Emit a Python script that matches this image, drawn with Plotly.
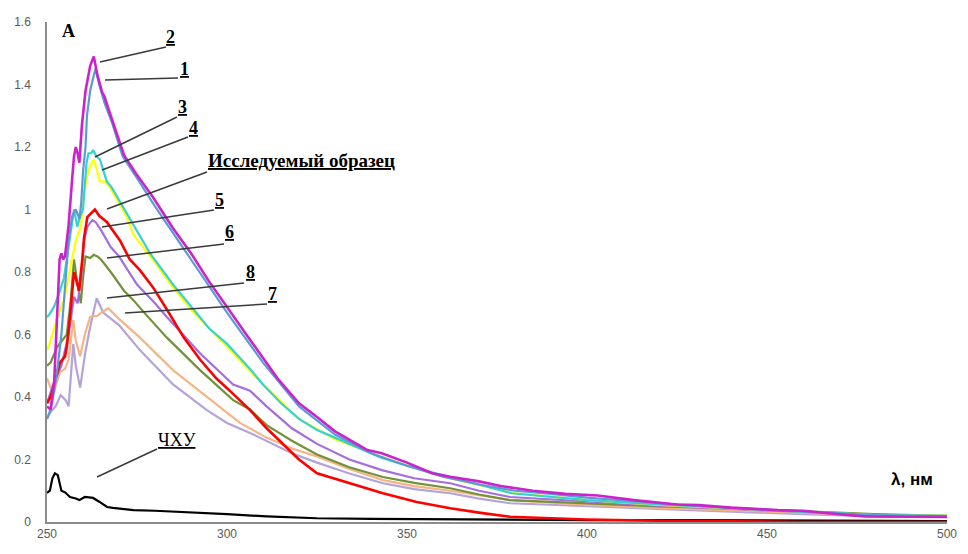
import plotly.graph_objects as go

# ---------------- data ----------------
wl_2 = [250, 251, 252, 253, 253.5, 254, 254.5, 255, 256, 257, 257.5, 258, 258.5, 259, 259.7, 260.7, 262, 263, 264,
        265.3, 266, 267.7, 271.4, 275, 279.4, 285, 290, 295, 300, 306, 314, 320, 325, 330, 339, 343, 350, 357, 362,
        370, 376, 385, 394, 403, 413, 425, 431, 440, 453, 460, 470, 477, 490, 500]
a_2 = [0.37, 0.36, 0.45, 0.70, 0.84, 0.86, 0.84, 0.85, 0.95, 1.10, 1.17, 1.20, 1.18, 1.15, 1.27, 1.38, 1.46, 1.49, 1.43,
       1.376, 1.36, 1.30, 1.174, 1.11, 1.04, 0.94, 0.86, 0.77, 0.69, 0.59, 0.46, 0.38, 0.336, 0.29, 0.23, 0.22, 0.19,
       0.156, 0.145, 0.13, 0.115, 0.10, 0.09, 0.085, 0.07, 0.056, 0.054, 0.046, 0.038, 0.036, 0.025, 0.018, 0.017, 0.017]

wl_1 = [250, 251, 252, 253, 254, 255, 256, 257, 258, 259, 259.5, 260, 260.7, 261.1, 262, 263, 263.5, 264.5, 266, 268,
        271, 275, 280, 290, 300, 310, 320, 330, 340, 350, 360, 370, 380, 390, 400, 420, 440, 460, 480, 500]
a_1 = [0.33, 0.36, 0.42, 0.50, 0.60, 0.75, 0.90, 0.98, 1.00, 0.97, 1.02, 1.12, 1.20, 1.30, 1.38, 1.43, 1.45, 1.40, 1.34,
       1.28, 1.17, 1.10, 1.01, 0.84, 0.67, 0.51, 0.37, 0.28, 0.22, 0.18, 0.145, 0.12, 0.10, 0.09, 0.078, 0.06, 0.045,
       0.033, 0.022, 0.018]

wl_3 = [250, 251, 252, 253.3, 254.7, 256.1, 257, 257.5, 258, 258.4, 259, 260, 260.5, 261, 261.5, 262.3, 262.8, 263.7,
        264.7, 266.6, 268, 270, 275, 278.6, 285, 290, 295, 300, 306.4, 310, 315, 320, 325, 330, 343, 350, 362, 370,
        379, 390, 400, 420, 440, 460, 480, 500]
a_3 = [0.655, 0.67, 0.69, 0.73, 0.78, 0.89, 0.97, 1.00, 0.97, 0.945, 0.97, 1.00, 1.08, 1.15, 1.18, 1.18, 1.19, 1.17,
       1.16, 1.09, 1.07, 1.03, 0.93, 0.86, 0.76, 0.69, 0.62, 0.57, 0.49, 0.44, 0.38, 0.33, 0.294, 0.27, 0.205, 0.18,
       0.145, 0.12, 0.092, 0.08, 0.07, 0.056, 0.045, 0.032, 0.022, 0.02]

wl_4 = [250, 251, 252, 253, 254.7, 256.6, 257.5, 258, 259.4, 260.3, 261, 262, 263, 264, 264.7, 266, 267.5, 270, 272,
        274, 280, 285, 290, 300, 310, 320, 330, 345, 360, 380, 400, 420, 440, 460, 480, 500]
a_4 = [0.55, 0.58, 0.62, 0.66, 0.71, 0.82, 0.87, 0.90, 0.945, 1.05, 1.10, 1.14, 1.16, 1.12, 1.09, 1.09, 1.07, 1.02,
       0.98, 0.92, 0.83, 0.75, 0.68, 0.56, 0.44, 0.33, 0.265, 0.20, 0.145, 0.092, 0.07, 0.055, 0.044, 0.032, 0.022, 0.02]

wl_s = [250, 251, 252, 253.6, 255, 255.5, 256.4, 257, 257.5, 258, 258.9, 259.8, 260.3, 261.2, 262.5, 263.3, 264.5,
        266.6, 270.3, 273, 275.8, 279.5, 283.3, 288, 292.5, 297, 301.7, 306.4, 311, 315.6, 320, 325, 334, 343.3,
        352.7, 362, 370, 378.6, 390, 400, 420, 440, 460, 500]
a_s = [0.38, 0.40, 0.44, 0.51, 0.53, 0.56, 0.66, 0.75, 0.80, 0.78, 0.74, 0.84, 0.91, 0.976, 0.99, 1.00, 0.98, 0.96,
       0.90, 0.84, 0.806, 0.75, 0.68, 0.59, 0.52, 0.46, 0.41, 0.358, 0.30, 0.25, 0.20, 0.156, 0.124, 0.092, 0.064,
       0.044, 0.03, 0.017, 0.012, 0.008, 0.004, 0.002, 0.0, 0.0]

wl_5 = [250, 252, 254, 256, 257.5, 258.5, 259.5, 260.3, 261.2, 262.6, 263.5, 265, 267.7, 270, 275, 280, 283.3, 292.5,
        301.7, 306.4, 311, 318, 325, 334, 343, 352, 362, 370, 378.6, 390, 400, 420, 440, 460, 480, 500]
a_5 = [0.38, 0.45, 0.50, 0.60, 0.72, 0.70, 0.78, 0.90, 0.945, 0.966, 0.96, 0.934, 0.88, 0.85, 0.76, 0.70, 0.656, 0.54,
       0.44, 0.42, 0.37, 0.30, 0.25, 0.20, 0.166, 0.14, 0.124, 0.10, 0.08, 0.072, 0.065, 0.052, 0.042, 0.032, 0.022,
       0.018]

wl_6 = [250, 251, 252.8, 255.5, 256.5, 257.5, 258.5, 259.4, 260, 260.7, 262, 263, 264, 265, 267.7, 271.4, 274, 277,
        283.3, 292.5, 301.7, 306.4, 311, 318, 325, 334, 343.3, 352, 362, 370, 378.6, 390, 400, 420, 440, 460, 480, 500]
a_6 = [0.50, 0.51, 0.56, 0.60, 0.70, 0.84, 0.76, 0.70, 0.78, 0.85, 0.845, 0.855, 0.85, 0.84, 0.80, 0.74, 0.71, 0.67,
       0.59, 0.486, 0.39, 0.36, 0.31, 0.26, 0.216, 0.175, 0.144, 0.125, 0.108, 0.088, 0.07, 0.064, 0.06, 0.05, 0.044,
       0.035, 0.025, 0.02]

wl_8 = [250, 251, 252.4, 253.8, 255.2, 256, 257.3, 258, 259.2, 260.6, 262, 263.8, 265.6, 270, 275.8, 285, 294.4, 300,
        306.4, 311, 318, 325, 334, 343.3, 352, 362, 370, 378.6, 390, 400, 420, 440, 460, 480, 500]
a_8 = [0.33, 0.352, 0.37, 0.406, 0.39, 0.37, 0.57, 0.50, 0.43, 0.54, 0.625, 0.716, 0.67, 0.63, 0.55, 0.44, 0.358, 0.317,
       0.285, 0.26, 0.22, 0.19, 0.155, 0.124, 0.105, 0.092, 0.075, 0.06, 0.055, 0.05, 0.04, 0.033, 0.025, 0.018, 0.015]

wl_7 = [250, 251, 252, 253.6, 255, 256, 257.3, 258, 259.2, 260.5, 262, 264, 265, 267, 270, 275.8, 285, 294.4, 303.6,
        311, 318, 325, 334, 343.3, 352, 362, 370, 378.6, 390, 400, 420, 440, 460, 480, 500]
a_7 = [0.46, 0.43, 0.42, 0.48, 0.49, 0.52, 0.646, 0.58, 0.53, 0.60, 0.656, 0.66, 0.67, 0.684, 0.65, 0.59, 0.486, 0.40,
       0.317, 0.27, 0.235, 0.21, 0.17, 0.134, 0.115, 0.10, 0.085, 0.07, 0.062, 0.055, 0.045, 0.037, 0.028, 0.022, 0.02]

wl_k = [250, 250.8, 251.5, 252.2, 253, 253.5, 254, 255, 256.4, 258, 259, 260.5, 262.8, 264.5, 266.7, 268.3, 274, 280,
        292.5, 300, 311, 325, 340, 360, 380, 400, 420, 440, 460, 480, 500]
a_k = [0.093, 0.10, 0.14, 0.156, 0.15, 0.12, 0.10, 0.095, 0.08, 0.075, 0.07, 0.08, 0.077, 0.065, 0.048, 0.045, 0.038,
       0.036, 0.03, 0.025, 0.018, 0.012, 0.01, 0.008, 0.007, 0.006, 0.006, 0.005, 0.005, 0.004, 0.003]

x_ticks = [250, 300, 350, 400, 450, 500]
y_ticks = [0, 0.2, 0.4, 0.6, 0.8, 1.0, 1.2, 1.4, 1.6]
y_ticktext = ["0", "0.2", "0.4", "0.6", "0.8", "1", "1.2", "1.4", "1.6"]

series = [
    ("ЧХУ", wl_k, a_k, "#000000", 2.2),
    ("8", wl_8, a_8, "#b4a3d8", 2.2),
    ("7", wl_7, a_7, "#f6b487", 2.2),
    ("6", wl_6, a_6, "#72923a", 2.2),
    ("5", wl_5, a_5, "#a56ede", 2.2),
    ("4", wl_4, a_4, "#ffff00", 2.2),
    ("3", wl_3, a_3, "#36d2d2", 2.2),
    ("Исследуемый образец", wl_s, a_s, "#ff0000", 2.6),
    ("1", wl_1, a_1, "#5b9bd5", 2.2),
    ("2", wl_2, a_2, "#cc22cc", 2.6),
]

# ---------------- figure ----------------
# the page body has an 8px margin, so the figure is drawn offset by (8, 8)
OFF = 8
W, H = 952, 538
L, R, T, B = 39, 13, 14, 24
PW, PH = W - L - R, H - T - B


def px(xp, yp):
    """reference-image pixel position -> paper coordinates"""
    return (xp - OFF - L) / PW, (H - B - (yp - OFF)) / PH


fig = go.Figure()
for name, xs, ys, col, w in series:
    fig.add_trace(go.Scatter(x=xs, y=ys, mode="lines", name=name,
                             line=dict(color=col, width=w), showlegend=False))

labels = [
    ("2", 18, (170, 37), (100, 62), (166, 47)),
    ("1", 18, (184, 69), (105, 80), (178, 78)),
    ("3", 18, (182, 107), (95, 157), (177, 117)),
    ("4", 18, (193, 128), (102, 170), (188, 137)),
    ("Исследуемый образец", 19, (301, 160), (107, 209), (207, 172)),
    ("5", 18, (219, 200), (102, 227), (214, 210)),
    ("6", 18, (229, 232), (107, 258), (224, 244)),
    ("8", 18, (250, 272), (107, 298), (244, 283)),
    ("7", 18, (272, 294), (125, 313), (267, 304)),
]
for txt, fs, (tx, ty), p0, p1 in labels:
    x0, y0 = px(*p0)
    x1, y1 = px(*p1)
    fig.add_shape(type="line", xref="paper", yref="paper", x0=x0, y0=y0, x1=x1, y1=y1,
                  line=dict(color="#3a3a3a", width=1.5))
    ax_, ay_ = px(tx, ty)
    fig.add_annotation(xref="paper", yref="paper", x=ax_, y=ay_, text="<b><u>%s</u></b>" % txt,
                       showarrow=False, font=dict(family="Liberation Serif", size=fs, color="#000000"),
                       xanchor="center", yanchor="middle")

# ЧХУ label (regular weight)
x0, y0 = px(97, 477)
x1, y1 = px(157, 449)
fig.add_shape(type="line", xref="paper", yref="paper", x0=x0, y0=y0, x1=x1, y1=y1,
              line=dict(color="#3a3a3a", width=1.5))
cx, cy = px(177, 440)
fig.add_annotation(xref="paper", yref="paper", x=cx, y=cy, text="<u>ЧХУ</u>", showarrow=False,
                   font=dict(family="Liberation Serif", size=18, color="#000000"),
                   xanchor="center", yanchor="middle")

# axis titles
ax_, ay_ = px(68, 31)
fig.add_annotation(xref="paper", yref="paper", x=ax_, y=ay_, text="<b>A</b>", showarrow=False,
                   font=dict(family="Liberation Serif", size=18, color="#000000"),
                   xanchor="center", yanchor="middle")
ax_, ay_ = px(912, 479)
fig.add_annotation(xref="paper", yref="paper", x=ax_, y=ay_, text="<b>λ, нм</b>", showarrow=False,
                   font=dict(family="Liberation Sans", size=17, color="#000000"),
                   xanchor="center", yanchor="middle")

tick_font = dict(family="Liberation Sans", size=12, color="#595959")
fig.update_layout(
    width=W, height=H,
    margin=dict(l=L, r=R, t=T, b=B, autoexpand=False),
    paper_bgcolor="#ffffff", plot_bgcolor="#ffffff",
    xaxis=dict(range=[250, 500], tickvals=x_ticks, ticktext=[str(v) for v in x_ticks],
               showgrid=False, zeroline=False, showline=True, linecolor="#8c8c8c", linewidth=1.5,
               ticks="", tickfont=tick_font, automargin=False),
    yaxis=dict(range=[0, 1.6], tickvals=y_ticks, ticktext=y_ticktext,
               showgrid=False, zeroline=False, showline=True, linecolor="#8c8c8c", linewidth=1.5,
               ticks="", tickfont=tick_font, ticklabelstandoff=12, automargin=False),
)

fig.write_html("out.html")
